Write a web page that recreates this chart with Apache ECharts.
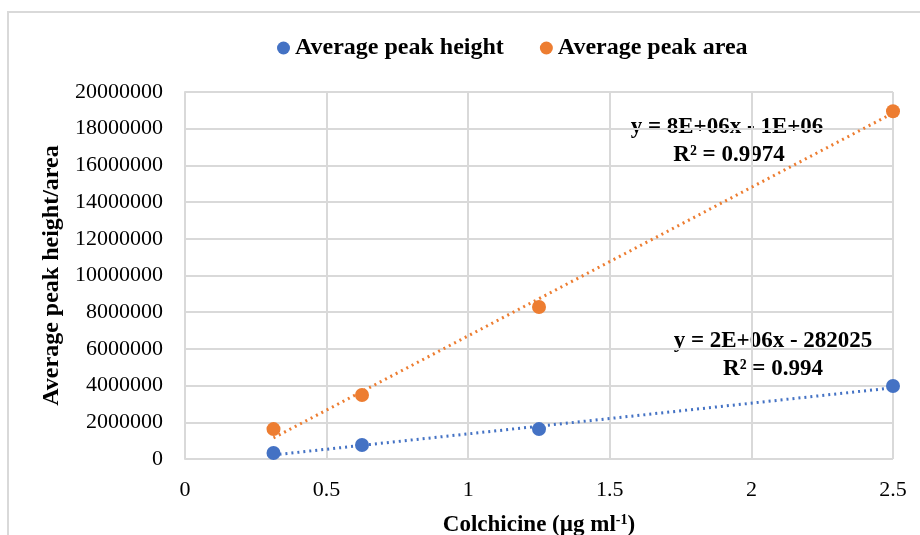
<!DOCTYPE html>
<html>
<head>
<meta charset="utf-8">
<script src="https://cdn.jsdelivr.net/npm/echarts@6/dist/echarts.min.js"></script>
<style>
  html, body { margin: 0; padding: 0; background: #fff; }
  #chart { width: 920px; height: 535px; }
</style>
</head>
<body>
<div id="chart"></div>
<script>
// data
const concentrations = [0.3125, 0.625, 1.25, 2.5];
const peakHeight = [330000, 760000, 1630000, 3980000];
const peakArea = [1630000, 3490000, 8280000, 18950000];
// trendline end points (x from first to last concentration)
const heightTrendX = [0.3125, 2.5];
const heightTrendY = [220000, 3880000];
const areaTrendX = [0.3125, 2.5];
const areaTrendY = [1150000, 18850000];
const xTicks = [0, 0.5, 1, 1.5, 2, 2.5];

const blue = '#4472c4';
const orange = '#ed7d31';
const font = '"Liberation Serif", "Times New Roman", serif';

const chart = echarts.init(document.getElementById('chart'));
chart.setOption({
  backgroundColor: '#fff',
  textStyle: { fontFamily: font },
  legend: {
    top: 31,
    left: 272,
    itemGap: 36,
    itemWidth: 13,
    itemHeight: 13,
    itemStyle: { opacity: 1 },
    data: [
      { name: 'Average peak height', icon: 'circle' },
      { name: 'Average peak area', icon: 'circle' }
    ],
    textStyle: { fontFamily: font, fontSize: 24, fontWeight: 'bold', color: '#000' }
  },
  grid: { left: 185, right: 27, top: 92, bottom: 76, outerBoundsMode: 'none' },
  xAxis: {
    type: 'value',
    min: 0,
    max: 2.5,
    interval: 0.5,
    name: '{a|Colchicine (µg ml}{s|-1}{a|)}',
    nameLocation: 'middle',
    nameGap: 54,
    nameTextStyle: {
      rich: {
        a: { fontFamily: font, fontSize: 23, fontWeight: 'bold', color: '#000' },
        s: { fontFamily: font, fontSize: 14, fontWeight: 'bold', color: '#000', verticalAlign: 'top', padding: [0, 0, 10, 0] }
      }
    },
    axisLine: { show: false },
    axisTick: { show: false },
    axisLabel: { fontFamily: font, fontSize: 22, color: '#000', margin: 20,
      formatter: v => xTicks.includes(v) ? String(v) : '' },
    splitLine: { show: true, lineStyle: { color: '#d9d9d9', width: 2 } }
  },
  yAxis: {
    type: 'value',
    min: 0,
    max: 20000000,
    interval: 2000000,
    name: 'Average peak height/area',
    nameLocation: 'middle',
    nameGap: 117,
    nameTextStyle: { fontFamily: font, fontSize: 24, fontWeight: 'bold', color: '#000' },
    axisLine: { show: true, lineStyle: { color: '#d9d9d9', width: 2 } },
    axisTick: { show: false },
    axisLabel: { fontFamily: font, fontSize: 22, color: '#000', margin: 22,
      formatter: v => String(v) },
    splitLine: { show: true, lineStyle: { color: '#d9d9d9', width: 2 } }
  },
  series: [
    {
      name: 'Average peak height',
      type: 'line',
      data: heightTrendX.map((x, i) => [x, heightTrendY[i]]),
      symbol: 'none',
      silent: true,
      lineStyle: { color: blue, width: 3, type: [2, 4] },
      itemStyle: { color: blue },
      z: 2
    },
    {
      name: 'Average peak area',
      type: 'line',
      data: areaTrendX.map((x, i) => [x, areaTrendY[i]]),
      symbol: 'none',
      silent: true,
      lineStyle: { color: orange, width: 3, type: [2, 4] },
      itemStyle: { color: orange },
      z: 2
    },
    {
      name: 'Average peak height',
      type: 'scatter',
      data: concentrations.map((x, i) => [x, peakHeight[i]]),
      symbolSize: 14,
      itemStyle: { color: blue, opacity: 1 },
      z: 3
    },
    {
      name: 'Average peak area',
      type: 'scatter',
      data: concentrations.map((x, i) => [x, peakArea[i]]),
      symbolSize: 14,
      itemStyle: { color: orange, opacity: 1 },
      z: 3
    }
  ],
  graphic: [
    { type: 'rect', shape: { x: 8, y: 12, width: 930, height: 540 },
      style: { fill: 'none', stroke: '#d9d9d9', lineWidth: 2 }, silent: true, z: -1 },
    { type: 'text', x: 727, y: 127, style: { text: 'y = 8E+06x - 1E+06', font: 'bold 23px ' + font, fill: '#000', align: 'center', verticalAlign: 'middle' } },
    { type: 'text', x: 729, y: 155, style: { text: 'R² = 0.9974', font: 'bold 23px ' + font, fill: '#000', align: 'center', verticalAlign: 'middle' } },
    { type: 'text', x: 773, y: 341, style: { text: 'y = 2E+06x - 282025', font: 'bold 23px ' + font, fill: '#000', align: 'center', verticalAlign: 'middle' } },
    { type: 'text', x: 773, y: 369, style: { text: 'R² = 0.994', font: 'bold 23px ' + font, fill: '#000', align: 'center', verticalAlign: 'middle' } }
  ]
});
</script>
</body>
</html>
